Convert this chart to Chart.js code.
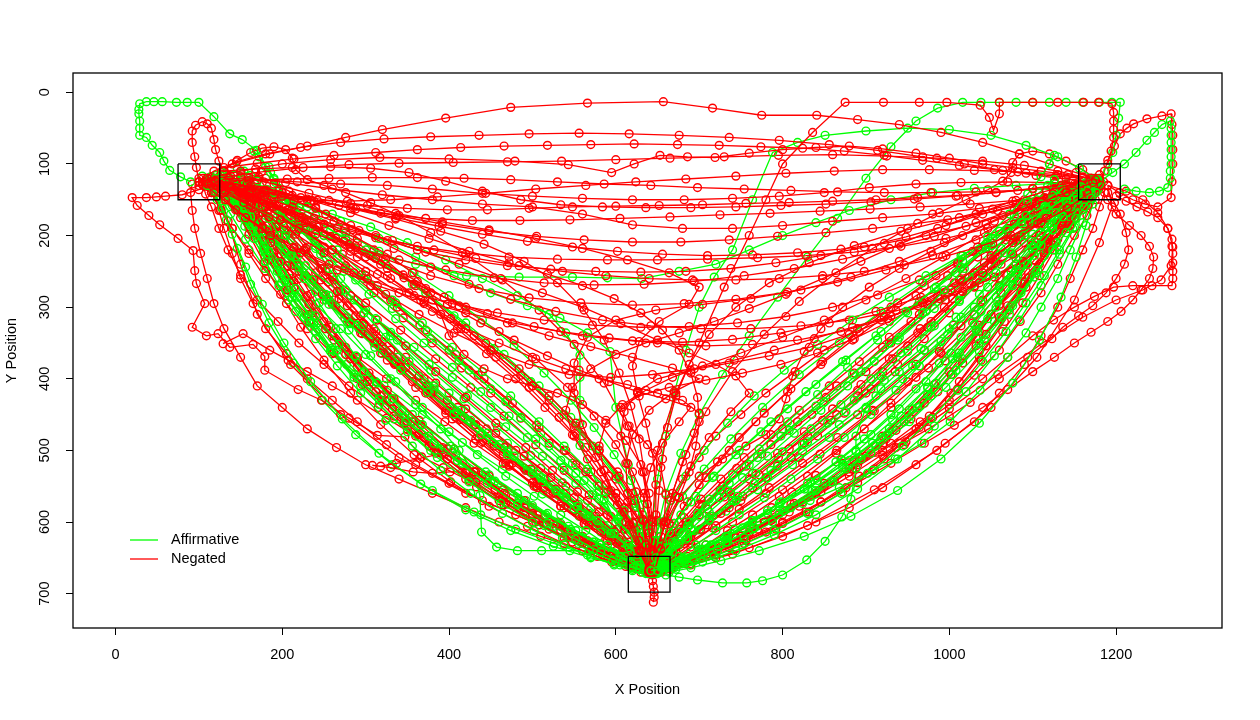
<!DOCTYPE html>
<html lang="en">
<head>
    <meta charset="UTF-8">
    <title>Mouse trajectories</title>
    <script src="https://cdn.jsdelivr.net/npm/chart.js"></script>
    <style>
        body { margin: 0; background: #fff; }
        canvas { display: block; }
    </style>
</head>
<body>
    <canvas id="traj-chart" width="1260" height="720"></canvas>

    <script>
        // axis ticks
        const xTicks = [0, 200, 400, 600, 800, 1000, 1200];
        const yTicks = [0, 100, 200, 300, 400, 500, 600, 700];
        const seriesNames = ['Affirmative', 'Negated'];

        // target boxes: [x1, y1, x2, y2]
        const targetBoxes = [
            [75, 100, 125, 150],
            [1155, 100, 1205, 150],
            [615, 648, 665, 698]
        ];

        // affirmative trials, [x, y] samples
        const affirmativeLeft = [
            [[640,672],[639,666],[637,658],[630,645],[615,628],[590,605],[555,575],[515,540],[470,500],[425,460],[380,418],[335,375],[292,330],[250,285],[212,240],[180,198],[155,165],[138,142],[127,130],[121,124],[118,121]],
            [[645,668],[642,660],[634,650],[618,636],[592,617],[556,592],[512,561],[464,526],[416,489],[368,450],[322,409],[280,366],[242,322],[208,276],[179,230],[155,187],[135,152],[120,130],[110,121],[104,117]],
            [[636,665],[630,655],[618,638],[598,612],[570,580],[536,545],[498,507],[458,468],[418,428],[378,388],[338,346],[300,304],[262,262],[228,222],[196,186],[168,158],[146,140],[130,130],[121,126]],
            [[632,670],[620,666],[598,658],[566,646],[526,630],[480,610],[430,586],[380,556],[332,520],[288,478],[248,430],[213,378],[184,322],[162,268],[146,218],[133,178],[122,150],[115,134],[111,126]],
            [[648,662],[647,650],[644,632],[636,606],[622,574],[600,536],[572,494],[538,450],[498,404],[454,358],[406,312],[356,268],[306,228],[258,192],[214,162],[178,140],[150,128],[132,122],[122,120]],
            [[642,670],[628,662],[604,648],[572,628],[534,602],[492,570],[448,534],[402,494],[356,450],[312,404],[272,356],[236,308],[204,262],[178,218],[158,180],[142,150],[130,132],[122,124]],
            [[640,660],[600,620],[540,560],[470,490],[400,420],[330,340],[270,260],[220,180],[190,120],[169,81],[152,66],[137,58],[118,34],[100,14],[86,14],[73,14],[56,13],[46,13],[37,13],[29,16],[28,24],[28,30],[29,40],[29,50],[29,60],[37,63],[44,74],[53,84],[58,96],[65,109],[78,118],[90,125]],
            [[120,125],[140,158],[160,190],[185,226],[210,260],[240,296],[270,330],[300,366],[330,400],[360,436],[390,470],[412,500],[430,530],[437,563],[438,590],[439,614],[457,635],[482,640],[511,640],[545,640],[572,640],[595,642],[610,645],[624,650],[635,655]],
            [[644,664],[640,652],[630,634],[612,610],[586,580],[552,546],[512,508],[468,467],[422,424],[376,380],[330,335],[286,290],[246,246],[210,206],[180,172],[156,146],[138,130],[126,122]],
            [[638,672],[618,664],[590,650],[555,630],[514,605],[470,575],[424,540],[378,500],[334,456],[294,410],[258,362],[226,314],[199,266],[177,222],[159,184],[145,156],[133,138],[124,128]],
            [[650,662],[646,640],[638,612],[624,578],[604,540],[578,498],[546,454],[508,410],[466,366],[420,322],[372,280],[324,240],[276,204],[230,172],[190,148],[156,132],[132,124]],
            [[640,665],[631,656],[616,641],[594,620],[566,594],[532,563],[494,528],[452,490],[408,450],[364,408],[320,365],[278,321],[240,278],[205,236],[176,198],[152,166],[134,144],[122,130],[116,124]],
            [[646,668],[632,660],[610,648],[580,630],[543,606],[500,577],[455,543],[408,506],[362,466],[318,424],[277,380],[240,335],[207,290],[179,246],[156,205],[138,170],[124,145],[114,130]],
            [[640,668],[636,660],[628,648],[614,632],[594,612],[568,588],[537,560],[500,528],[460,492],[418,453],[375,412],[332,369],[290,325],[252,282],[217,240],[186,201],[160,167],[140,142],[126,128],[118,122]],
            [[628,666],[605,660],[570,650],[525,634],[474,612],[420,583],[366,547],[316,504],[272,456],[234,404],[202,350],[176,296],[156,244],[140,198],[128,162],[118,138],[110,124]],
            [[640,665],[622,640],[600,600],[578,548],[557,493],[557,462],[557,430],[557,398],[557,367],[540,336],[520,310],[482,284],[440,260],[396,234],[350,210],[306,188],[260,170],[214,154],[170,140],[138,130],[115,125]],
            [[652,666],[648,656],[640,640],[626,618],[606,590],[580,556],[548,518],[510,476],[468,432],[424,388],[378,344],[332,302],[288,262],[246,226],[208,194],[176,168],[150,148],[132,134],[120,126]],
            [[642,672],[625,665],[600,652],[566,632],[526,606],[482,574],[436,538],[390,498],[346,454],[304,408],[266,360],[232,312],[203,264],[179,220],[160,182],[145,152],[133,132]],
            [[636,668],[626,658],[608,640],[582,614],[550,582],[512,544],[470,502],[426,458],[382,414],[338,370],[296,326],[256,284],[220,244],[188,208],[162,176],[142,150],[128,134],[118,126]],
            [[645,662],[638,646],[624,624],[602,596],[572,562],[536,524],[494,482],[450,440],[404,398],[358,356],[312,316],[268,278],[228,242],[194,208],[166,178],[146,154],[132,138]],
            [[638,664],[634,656],[626,646],[614,632],[598,616],[578,598],[554,578],[528,556],[500,532],[470,506],[438,478],[406,449],[374,419],[342,388],[311,356],[281,323],[253,290],[227,256],[203,223],[182,192],[164,164],[150,142],[138,128],[128,120],[120,116]],
            [[644,670],[634,664],[618,655],[598,643],[574,628],[546,610],[516,590],[484,568],[450,544],[416,518],[382,490],[348,460],[316,428],[286,394],[258,358],[234,322],[212,286],[194,250],[178,216],[164,186],[152,160],[140,140],[130,128],[122,122]],
            [[650,666],[650,652],[648,632],[642,606],[632,576],[618,542],[598,506],[574,468],[546,430],[514,392],[478,354],[440,318],[400,284],[358,252],[316,222],[276,196],[240,172],[208,152],[182,136],[160,124],[142,116],[128,112]],
            [[636,672],[620,668],[598,660],[570,648],[538,632],[502,612],[464,588],[426,560],[390,528],[356,494],[324,458],[294,420],[266,382],[240,344],[216,306],[196,270],[180,236],[166,204],[154,176],[144,152],[134,136],[126,126]],
            [[642,662],[640,650],[634,634],[622,614],[606,592],[586,568],[562,542],[534,514],[504,484],[472,452],[438,418],[404,384],[370,350],[336,316],[304,282],[274,250],[246,220],[220,192],[198,168],[178,148],[160,132],[144,122],[130,116]],
            [[646,666],[638,650],[624,628],[604,600],[580,568],[552,532],[520,494],[486,454],[450,414],[412,374],[374,334],[336,294],[300,256],[266,220],[236,186],[210,154],[192,126],[180,104],[172,90],[166,82]],
            [[640,668],[626,660],[606,648],[582,632],[552,612],[518,588],[482,560],[444,530],[406,498],[368,464],[332,428],[298,390],[268,352],[240,312],[216,274],[196,238],[178,204],[162,174],[148,150],[136,134],[124,124],[114,118]],
            [[642,668],[630,660],[612,648],[590,632],[564,612],[534,590],[502,564],[468,536],[434,506],[400,474],[368,440],[336,404],[306,368],[280,332],[256,296],[236,262],[218,230],[204,200],[194,174],[186,152],[178,136],[170,124],[162,116],[154,110],[146,106]],
            [[646,664],[634,652],[616,636],[594,616],[568,592],[540,566],[510,538],[478,508],[446,476],[414,444],[382,410],[352,376],[324,342],[298,308],[276,276],[256,246],[240,218],[226,192],[214,170],[204,150],[196,134],[190,122],[186,112],[184,104]],
            [[638,670],[620,664],[596,654],[568,640],[536,622],[500,600],[462,574],[424,544],[386,510],[350,474],[316,436],[286,398],[260,360],[238,322],[218,286],[200,252],[184,222],[170,196],[158,174],[148,158],[140,146],[134,138],[130,132]],
            [[650,662],[646,648],[638,630],[626,608],[610,584],[590,556],[566,526],[538,494],[508,460],[474,424],[440,390],[404,356],[368,322],[332,290],[298,260],[266,232],[238,206],[214,184],[194,164],[178,148],[166,136],[158,128],[152,122]],
            [[644,672],[628,666],[608,656],[582,642],[552,624],[518,602],[482,576],[446,546],[410,514],[376,480],[344,444],[314,406],[288,368],[264,330],[244,294],[226,260],[210,228],[196,200],[184,176],[174,158],[166,144],[160,134],[156,126]]
        ];
        const affirmativeRight = [
            [[648,668],[652,660],[660,648],[676,632],[700,611],[732,585],[770,555],[812,520],[856,482],[900,442],[944,400],[988,356],[1030,310],[1068,264],[1100,220],[1126,182],[1146,152],[1160,134],[1170,124],[1176,120]],
            [[644,670],[654,664],[672,654],[700,638],[738,616],[782,588],[830,554],[880,514],[928,470],[974,422],[1016,372],[1054,320],[1088,268],[1116,220],[1140,180],[1158,150],[1170,132],[1178,124]],
            [[642,662],[644,648],[650,626],[662,598],[680,564],[706,526],[738,484],[776,440],[820,394],[868,350],[918,306],[968,266],[1016,228],[1060,194],[1098,166],[1130,146],[1154,132],[1170,124]],
            [[650,672],[664,670],[690,664],[726,654],[772,640],[826,620],[882,592],[938,556],[990,512],[1036,462],[1076,406],[1108,346],[1134,286],[1152,230],[1164,186],[1172,156],[1178,136],[1182,126]],
            [[645,670],[660,674],[676,677],[698,681],[728,685],[757,685],[776,682],[800,674],[829,653],[851,627],[871,593],[882,568],[888,525],[888,500],[888,480],[900,440],[918,414],[940,390],[970,360],[1000,330],[1030,300],[1060,270],[1086,240],[1110,210],[1132,184],[1150,160],[1165,142],[1175,130]],
            [[650,665],[674,654],[700,640],[730,622],[760,605],[796,588],[833,570],[868,552],[902,532],[935,512],[967,490],[1001,460],[1037,416],[1070,370],[1092,336],[1110,300],[1130,260],[1145,220],[1160,182],[1170,150]],
            [[646,664],[650,652],[660,636],[676,614],[698,588],[726,556],[760,520],[798,480],[840,438],[884,394],[928,350],[972,306],[1014,262],[1052,220],[1086,184],[1114,156],[1138,138],[1158,126],[1172,120]],
            [[652,670],[668,664],[692,652],[724,634],[764,610],[810,580],[858,544],[906,504],[952,460],[996,412],[1036,362],[1072,310],[1102,258],[1128,210],[1148,170],[1162,142],[1172,128]],
            [[1180,125],[1196,112],[1210,100],[1224,84],[1237,67],[1246,56],[1255,45],[1265,40],[1266,50],[1266,60],[1266,70],[1266,80],[1266,90],[1266,100],[1265,110],[1265,120],[1262,133],[1252,138],[1240,140],[1224,138],[1210,135]],
            [[640,665],[650,610],[660,560],[678,504],[700,450],[728,394],[760,340],[794,286],[830,230],[866,176],[900,120],[930,76],[960,40],[986,22],[1016,14],[1038,14],[1060,14],[1080,14],[1100,14],[1120,14],[1140,14],[1160,14],[1180,14],[1195,14],[1205,14],[1203,36],[1200,60],[1196,84],[1190,110]],
            [[110,130],[150,154],[200,180],[250,200],[300,220],[360,240],[421,256],[484,258],[548,258],[590,259],[631,260],[676,250],[720,240],[760,220],[800,200],[840,182],[880,165],[930,150],[980,140],[1030,134],[1080,130],[1126,127],[1170,125]],
            [[640,665],[644,600],[650,540],[660,480],[670,420],[684,360],[700,300],[718,258],[740,220],[764,150],[788,84],[818,70],[851,60],[900,54],[950,50],[1000,52],[1050,60],[1092,74],[1130,90],[1156,106],[1175,120]],
            [[650,666],[656,656],[668,642],[686,622],[712,598],[744,570],[782,538],[824,502],[868,464],[912,424],[956,382],[998,338],[1038,294],[1074,250],[1104,210],[1130,176],[1150,150],[1166,134],[1176,126]],
            [[648,668],[662,662],[684,650],[714,632],[752,608],[796,578],[842,542],[888,502],[932,458],[974,412],[1012,364],[1046,316],[1076,270],[1102,228],[1124,192],[1142,162],[1156,140],[1168,128]],
            [[645,662],[648,648],[656,628],[670,602],[690,572],[716,538],[748,500],[786,460],[828,418],[872,376],[918,334],[964,292],[1008,252],[1050,214],[1088,180],[1120,154],[1146,136],[1164,126],[1176,121]],
            [[650,670],[672,666],[704,656],[744,640],[790,618],[840,590],[890,554],[938,512],[982,466],[1020,418],[1054,368],[1084,318],[1110,270],[1132,226],[1150,188],[1164,158],[1174,138],[1180,128]],
            [[655,664],[660,650],[670,630],[686,606],[708,578],[736,546],[770,510],[808,472],[850,432],[894,390],[938,346],[982,302],[1024,258],[1062,218],[1096,184],[1124,158],[1146,140],[1162,130]],
            [[646,670],[660,662],[680,650],[708,632],[742,610],[782,584],[826,554],[872,520],[918,482],[962,440],[1004,394],[1042,346],[1076,298],[1104,252],[1128,210],[1146,176],[1160,150],[1170,134],[1176,126]],
            [[640,665],[630,600],[615,520],[600,440],[593,362],[566,336],[533,315],[494,298],[450,280],[406,256],[360,230],[316,204],[270,180],[230,160],[190,140],[150,128],[120,120]],
            [[652,662],[664,646],[684,624],[712,596],[746,564],[786,528],[830,488],[876,446],[922,402],[966,358],[1008,314],[1046,272],[1080,232],[1110,196],[1134,166],[1154,144],[1168,130],[1178,122]],
            [[646,664],[652,656],[662,644],[676,630],[694,612],[716,592],[740,570],[766,546],[794,520],[824,492],[854,462],[886,430],[918,396],[950,362],[982,326],[1012,290],[1040,256],[1066,224],[1090,196],[1112,172],[1132,152],[1150,138],[1164,128],[1174,122]],
            [[650,670],[664,664],[682,656],[706,644],[734,628],[766,608],[800,584],[836,556],[872,524],[908,490],[942,452],[974,412],[1004,372],[1032,332],[1058,292],[1082,256],[1104,222],[1124,192],[1140,168],[1154,148],[1166,134],[1176,126]],
            [[642,664],[642,648],[646,626],[654,600],[666,570],[684,536],[706,500],[734,462],[766,424],[802,388],[842,352],[884,318],[928,286],[972,256],[1014,228],[1052,204],[1086,182],[1116,164],[1140,148],[1160,136],[1174,128]],
            [[648,672],[664,668],[688,660],[718,648],[752,632],[790,612],[830,588],[870,560],[908,528],[944,494],[978,456],[1010,416],[1040,376],[1068,334],[1092,294],[1114,256],[1132,220],[1148,190],[1160,164],[1170,144],[1178,130]],
            [[652,664],[660,650],[672,632],[690,610],[712,586],[738,560],[768,532],[800,502],[834,470],[870,436],[906,400],[942,364],[978,328],[1012,292],[1044,258],[1074,226],[1100,198],[1122,174],[1142,154],[1158,140],[1170,130]],
            [[644,666],[654,650],[668,628],[688,600],[712,568],[740,534],[772,498],[806,460],[842,422],[878,384],[914,346],[950,308],[984,272],[1016,236],[1046,202],[1072,170],[1094,142],[1110,118],[1120,100],[1126,88]],
            [[650,668],[662,662],[680,652],[704,638],[732,620],[764,598],[798,572],[834,544],[870,512],[906,478],[940,442],[972,404],[1002,364],[1030,324],[1056,286],[1080,250],[1102,216],[1122,186],[1140,162],[1156,144],[1168,132],[1178,124]],
            [[648,668],[660,660],[676,648],[696,632],[720,612],[748,590],[778,566],[810,540],[842,512],[874,482],[906,450],[936,416],[964,382],[990,348],[1014,314],[1036,282],[1056,252],[1074,224],[1090,200],[1104,178],[1116,160],[1126,146],[1134,136],[1140,128]],
            [[644,664],[652,652],[664,636],[680,616],[700,592],[724,566],[752,538],[782,508],[814,476],[846,444],[878,410],[910,376],[940,342],[968,308],[994,276],[1018,246],[1040,218],[1060,194],[1078,172],[1094,154],[1108,140],[1118,130],[1126,122]],
            [[652,670],[670,664],[694,654],[722,640],[754,622],[788,600],[824,574],[860,544],[894,512],[926,478],[956,442],[984,406],[1010,370],[1034,334],[1056,300],[1076,268],[1094,240],[1110,214],[1124,192],[1136,174],[1146,160],[1154,150],[1160,142]],
            [[646,662],[648,650],[654,634],[664,614],[678,590],[696,564],[718,536],[744,506],[774,474],[806,442],[840,408],[876,374],[912,340],[948,306],[982,274],[1014,244],[1044,216],[1070,192],[1092,172],[1110,156],[1124,144],[1134,136]],
            [[650,668],[664,662],[682,652],[706,638],[734,620],[764,598],[796,574],[830,546],[864,516],[898,484],[930,450],[960,414],[988,378],[1014,342],[1038,306],[1060,272],[1080,240],[1098,212],[1114,188],[1128,168],[1140,152],[1150,140],[1158,132]],
            [[642,668],[656,664],[676,656],[702,644],[732,628],[766,608],[802,584],[840,556],[876,526],[912,494],[946,460],[978,424],[1008,388],[1036,350],[1062,314],[1086,280],[1106,248],[1124,220],[1140,196],[1152,176],[1162,160],[1170,148],[1176,140]]
        ];

        // negated trials, [x, y] samples
        const negatedLeft = [
            [[641,672],[640,662],[638,640],[630,600],[616,580],[600,560],[570,530],[540,500],[505,465],[470,430],[435,395],[400,360],[365,325],[330,290],[295,255],[260,220],[225,190],[190,160],[162,140],[140,125],[118,121],[110,120]],
            [[645,668],[633,655],[620,640],[595,620],[570,600],[535,572],[500,545],[465,518],[430,490],[395,460],[360,430],[325,400],[290,370],[260,340],[230,310],[205,280],[180,250],[160,220],[140,190],[126,164],[115,140],[104,128],[100,125]],
            [[640,670],[622,662],[600,650],[560,630],[520,610],[480,590],[440,570],[400,546],[360,520],[325,492],[290,460],[260,430],[230,400],[205,365],[180,330],[165,295],[150,260],[140,225],[130,190],[124,165],[120,140],[112,128],[105,120]],
            [[642,665],[641,645],[640,620],[632,590],[620,560],[602,530],[580,500],[552,466],[520,430],[486,395],[450,360],[415,325],[380,290],[345,255],[310,220],[275,190],[240,160],[208,138],[180,120],[150,112],[130,110]],
            [[650,660],[630,630],[610,610],[590,590],[566,570],[540,550],[510,525],[480,500],[445,470],[410,440],[375,410],[340,380],[310,350],[280,320],[250,290],[220,260],[195,230],[170,200],[150,175],[130,150],[118,138],[110,130]],
            [[630,670],[595,656],[560,640],[510,620],[460,600],[420,580],[380,560],[340,540],[300,520],[265,496],[230,470],[200,440],[170,410],[150,370],[130,330],[118,295],[110,260],[102,225],[95,190],[92,165],[90,140],[92,128]],
            [[645,668],[622,654],[600,640],[560,620],[520,600],[490,585],[460,570],[433,551],[416,530],[401,530],[380,532],[357,530],[330,524],[308,521],[318,522],[337,518],[365,511],[393,504],[370,482],[350,460],[320,430],[290,400],[260,365],[230,330],[205,295],[180,260],[160,225],[140,190],[126,165],[115,140]],
            [[120,128],[100,136],[80,143],[60,145],[49,146],[37,147],[20,147],[26,158],[40,172],[53,185],[75,204],[93,221],[95,249],[97,267],[107,295],[92,328],[109,340],[123,337],[137,356],[165,352],[179,369],[179,388],[219,415],[247,430],[280,455],[314,479],[347,481],[367,509],[393,524],[420,540],[460,565],[500,590],[540,615],[580,640],[610,656],[640,670]],
            [[100,125],[97,105],[95,90],[92,70],[92,54],[96,46],[104,41],[110,44],[115,50],[118,66],[120,80],[124,96],[130,110],[155,130],[180,150],[215,175],[250,200],[290,230],[330,260],[370,295],[410,330],[445,365],[480,400],[515,440],[550,480],[582,530],[610,580],[628,620],[640,660]],
            [[645,712],[646,705],[646,698],[645,690],[644,682],[644,674],[645,665],[643,652],[640,640],[632,620],[620,600],[602,576],[580,550],[552,520],[520,490],[486,455],[450,420],[415,385],[380,350],[345,315],[310,280],[275,245],[240,210],[210,184],[180,160],[152,140],[130,125]],
            [[640,672],[610,655],[585,640],[560,625],[525,602],[490,580],[455,555],[420,530],[385,500],[350,470],[315,440],[280,410],[250,380],[220,350],[195,320],[170,290],[150,255],[135,220],[124,190],[115,160],[108,142],[105,130]],
            [[648,664],[640,630],[625,590],[600,540],[560,480],[500,410],[430,340],[360,270],[290,210],[220,160],[160,130],[120,122]],
            [[638,668],[580,640],[500,600],[420,560],[340,510],[270,450],[210,380],[170,310],[150,240],[135,180],[125,140]],
            [[129,351],[153,337],[185,360],[207,374],[230,390],[260,410],[290,430],[325,455],[360,480],[395,505],[430,530],[465,555],[500,580],[535,605],[570,630],[600,650],[630,665]],
            [[640,668],[625,650],[590,615],[545,575],[490,525],[430,465],[370,400],[310,330],[255,265],[205,200],[160,150],[125,125]],
            [[644,666],[615,640],[575,605],[525,560],[465,505],[400,445],[335,380],[275,315],[220,250],[172,185],[138,140],[115,118]],
            [[646,670],[628,652],[605,628],[560,590],[505,540],[445,485],[380,420],[320,355],[262,290],[210,225],[165,170],[130,132]],
            [[641,668],[636,660],[626,648],[610,632],[588,612],[560,588],[528,560],[492,528],[454,494],[414,457],[374,418],[334,378],[296,337],[260,296],[226,256],[196,218],[170,184],[150,156],[134,136],[122,126]],
            [[644,672],[630,666],[610,656],[582,640],[548,620],[508,596],[464,566],[420,532],[376,494],[334,452],[296,408],[262,364],[232,320],[206,276],[184,234],[166,196],[150,164],[136,140],[124,126]],
            [[650,664],[646,650],[640,630],[630,604],[614,572],[592,536],[564,496],[532,454],[496,412],[456,370],[414,330],[370,292],[326,256],[282,222],[240,192],[202,166],[170,146],[144,132],[126,124]],
            [[636,668],[620,660],[596,646],[566,626],[530,600],[490,570],[448,536],[406,498],[364,458],[326,416],[290,372],[258,328],[230,284],[206,242],[186,204],[168,172],[152,148],[138,132],[128,124]],
            [[642,666],[628,654],[608,636],[582,612],[550,584],[514,552],[476,518],[436,482],[396,444],[356,404],[318,364],[282,322],[248,282],[218,242],[192,206],[170,176],[152,152],[138,136],[128,128]],
            [[646,668],[640,656],[630,640],[614,618],[594,592],[568,562],[538,528],[504,492],[466,452],[426,412],[384,372],[342,332],[300,294],[260,258],[222,224],[188,194],[160,168],[140,148],[126,134],[118,126]],
            [[638,670],[612,662],[578,648],[538,630],[494,606],[448,578],[402,544],[358,506],[318,464],[282,420],[250,374],[222,328],[198,282],[178,238],[160,198],[146,164],[134,140],[124,126]],
            [[645,664],[646,648],[646,626],[642,598],[634,566],[620,530],[600,492],[574,452],[542,412],[504,372],[460,334],[412,298],[362,264],[312,232],[264,204],[220,178],[182,158],[152,142],[130,130]],
            [[110,125],[128,110],[146,95],[162,84],[176,78],[190,76],[204,80],[212,92],[216,108],[230,122],[250,130],[276,140],[306,154],[340,172],[378,196],[420,226],[464,262],[508,304],[550,352],[586,406],[614,466],[632,530],[642,596],[645,650]],
            [[644,666],[636,656],[622,642],[604,624],[582,604],[556,580],[528,554],[498,526],[466,496],[432,464],[398,430],[364,396],[330,360],[298,324],[268,288],[240,252],[214,218],[192,188],[174,162],[158,142],[146,128],[136,120]],
            [[640,670],[624,662],[602,650],[574,634],[542,614],[506,590],[468,562],[430,530],[392,496],[356,460],[322,422],[290,384],[262,346],[236,308],[214,272],[194,238],[178,208],[164,180],[152,158],[142,140],[132,128]],
            [[648,664],[648,648],[644,626],[636,600],[622,570],[604,536],[580,500],[552,462],[520,424],[484,386],[444,350],[402,316],[358,284],[314,254],[272,226],[234,200],[200,176],[172,154],[150,136],[134,124]],
            [[642,668],[630,658],[612,644],[590,626],[564,604],[534,578],[502,550],[468,518],[432,484],[396,448],[360,412],[326,374],[294,336],[264,298],[238,262],[214,228],[194,196],[176,168],[160,146],[146,130],[134,120],[126,116]],
            [[636,668],[614,660],[584,646],[548,628],[508,604],[466,576],[424,542],[384,504],[346,462],[312,418],[282,372],[256,326],[234,282],[214,242],[196,206],[180,176],[164,152],[150,136],[138,126]],
            [[646,672],[640,662],[630,650],[616,634],[598,614],[576,592],[550,566],[522,538],[490,508],[456,476],[420,442],[384,406],[348,370],[312,334],[278,298],[246,262],[216,228],[190,196],[168,170],[150,150],[136,136],[126,128]],
            [[640,664],[632,650],[620,632],[602,610],[580,586],[554,558],[524,528],[492,496],[456,462],[420,426],[384,390],[348,354],[314,318],[282,284],[252,250],[226,220],[202,192],[182,168],[164,148],[150,134],[138,124]],
            [[640,666],[628,656],[610,642],[588,624],[562,602],[534,578],[504,550],[472,520],[440,488],[408,454],[378,420],[348,384],[320,348],[294,312],[270,278],[248,246],[230,216],[214,190],[200,168],[190,150],[182,136],[176,126],[172,118],[168,112]],
            [[646,668],[634,658],[616,644],[594,626],[568,604],[538,580],[506,552],[472,522],[438,490],[404,456],[372,420],[342,384],[314,348],[288,312],[266,278],[246,246],[228,218],[212,194],[198,174],[186,158],[176,146],[168,138],[160,132]],
            [[642,670],[622,664],[598,654],[570,640],[538,622],[504,600],[468,574],[432,544],[398,512],[364,478],[332,442],[302,404],[276,366],[252,330],[232,296],[214,264],[198,236],[186,210],[176,188],[168,170],[160,156],[154,146]],
            [[648,664],[644,650],[636,632],[624,610],[608,586],[588,560],[564,530],[538,500],[508,468],[476,434],[442,400],[408,366],[372,332],[338,300],[306,270],[276,242],[250,216],[228,192],[210,172],[196,156],[186,144],[180,136]],
            [[636,668],[618,660],[594,648],[566,632],[534,612],[500,588],[466,560],[432,530],[398,498],[366,464],[334,428],[304,392],[276,356],[250,320],[228,286],[208,254],[190,224],[176,198],[164,176],[154,158],[146,144],[140,134],[136,126]]
        ];
        const negatedRight = [
            [[645,665],[660,630],[678,610],[700,590],[730,565],[760,540],[795,510],[830,480],[865,450],[900,420],[935,390],[970,360],[1005,325],[1040,290],[1070,255],[1100,220],[1125,190],[1150,160],[1168,140],[1175,130]],
            [[650,668],[675,654],[700,640],[735,620],[770,600],[810,575],[850,550],[890,520],[930,490],[965,460],[1000,430],[1030,395],[1060,360],[1085,320],[1110,280],[1130,240],[1150,200],[1165,172],[1175,150],[1182,135],[1185,125]],
            [[648,660],[652,630],[655,600],[665,570],[680,540],[700,510],[720,480],[750,450],[780,420],[815,390],[850,360],[890,330],[930,300],[970,270],[1010,240],[1045,210],[1080,180],[1110,158],[1140,140],[1170,120]],
            [[655,670],[690,660],[720,650],[760,636],[800,620],[840,600],[880,580],[920,552],[960,520],[995,490],[1030,460],[1060,420],[1090,380],[1110,340],[1130,300],[1145,260],[1160,220],[1172,190],[1180,160],[1186,140]],
            [[650,665],[690,620],[750,570],[820,510],[890,450],[960,380],[1030,310],[1090,240],[1140,180],[1165,140],[1180,115]],
            [[645,668],[676,656],[707,642],[735,622],[763,602],[787,580],[811,558],[840,535],[871,513],[895,510],[920,507],[948,488],[975,470],[1000,452],[1025,433],[1060,400],[1094,370],[1123,344],[1136,328],[1155,312],[1172,298],[1188,280],[1200,260],[1210,240],[1215,220],[1212,196],[1205,170],[1198,154],[1190,140]],
            [[650,670],[685,656],[720,640],[760,616],[800,590],[840,560],[880,530],[920,500],[960,470],[1000,436],[1040,400],[1070,370],[1100,340],[1125,318],[1150,300],[1174,285],[1197,272],[1220,270],[1243,270],[1267,270],[1268,260],[1268,250],[1268,238],[1268,225],[1267,215],[1267,205],[1262,190],[1250,175],[1238,167],[1225,160],[1212,152],[1200,145]],
            [[1180,125],[1186,110],[1190,95],[1198,75],[1205,58],[1213,50],[1221,44],[1237,37],[1255,33],[1266,30],[1267,45],[1268,60],[1268,80],[1268,100],[1267,125],[1266,147],[1250,160],[1235,156],[1220,150],[1204,140],[1190,130]],
            [[640,665],[672,640],[720,605],[780,560],[845,505],[910,445],[975,385],[1035,325],[1090,265],[1130,205],[1160,160],[1178,132]],
            [[650,662],[668,620],[700,575],[745,525],[800,470],[865,410],[930,350],[995,290],[1055,230],[1105,180],[1150,140],[1172,125]],
            [[655,668],[740,645],[830,605],[910,555],[985,500],[1050,440],[1105,370],[1150,290],[1180,210],[1195,160],[1190,130]],
            [[1180,130],[1190,150],[1200,170],[1216,186],[1230,200],[1240,215],[1245,230],[1244,246],[1240,260],[1230,276],[1220,290],[1206,306],[1190,320],[1170,335],[1150,350],[1126,370],[1100,390],[1070,415],[1040,440],[1006,465],[970,490],[930,518],[890,545],[846,572],[800,600],[756,624],[710,645],[680,658],[650,668]],
            [[652,664],[690,635],[740,600],[800,555],[865,500],[930,440],[995,375],[1050,310],[1100,245],[1140,185],[1168,140],[1180,122]],
            [[647,666],[662,640],[685,600],[725,555],[775,505],[835,450],[900,390],[965,330],[1030,270],[1090,210],[1135,160],[1165,130]],
            [[648,668],[656,660],[670,648],[690,630],[716,608],[748,582],[784,552],[824,518],[866,482],[908,444],[950,404],[990,364],[1028,322],[1062,280],[1092,240],[1118,204],[1138,174],[1154,150],[1166,134],[1174,126]],
            [[644,670],[660,666],[684,658],[716,644],[756,626],[800,602],[846,572],[892,536],[936,496],[976,452],[1012,404],[1044,354],[1072,304],[1096,258],[1116,216],[1134,182],[1150,154],[1164,136],[1174,126]],
            [[652,662],[654,648],[660,628],[670,602],[686,572],[708,538],[736,500],[768,460],[806,418],[848,376],[892,334],[938,294],[984,256],[1028,222],[1068,192],[1102,168],[1130,148],[1152,134],[1168,126]],
            [[646,668],[668,662],[698,652],[736,636],[780,614],[828,586],[876,552],[922,512],[964,468],[1002,420],[1036,370],[1066,320],[1092,272],[1114,228],[1134,190],[1150,160],[1164,140],[1174,128]],
            [[650,666],[658,654],[670,638],[688,618],[712,594],[740,566],[772,534],[808,498],[848,458],[890,416],[932,372],[974,328],[1014,284],[1050,242],[1082,206],[1108,176],[1130,154],[1150,138],[1166,128],[1176,122]],
            [[640,668],[654,664],[676,656],[706,642],[744,622],[788,596],[834,564],[880,526],[924,484],[964,438],[1000,390],[1032,342],[1060,296],[1086,254],[1108,216],[1128,184],[1146,158],[1162,140]],
            [[1180,125],[1160,108],[1140,96],[1120,86],[1100,82],[1084,86],[1076,98],[1074,112],[1064,124],[1046,136],[1020,150],[988,168],[950,190],[908,218],[864,252],[820,292],[778,338],[740,390],[708,446],[684,506],[666,566],[654,620],[648,656]],
            [[1190,130],[1212,138],[1232,150],[1250,168],[1262,190],[1268,216],[1266,242],[1254,262],[1232,276],[1200,290],[1160,314],[1112,350],[1058,394],[1000,442],[940,490],[880,536],[820,578],[760,614],[704,642],[660,664]],
            [[646,666],[654,658],[666,646],[682,630],[702,610],[726,588],[752,564],[780,538],[810,510],[842,480],[874,448],[906,414],[938,380],[970,344],[1000,308],[1030,272],[1056,238],[1080,208],[1102,182],[1122,160],[1140,144],[1156,132],[1168,126]],
            [[642,670],[656,666],[676,658],[702,646],[734,630],[770,610],[808,586],[846,558],[884,526],[920,492],[954,456],[986,418],[1016,378],[1044,338],[1070,298],[1094,260],[1114,224],[1132,194],[1148,168],[1160,148],[1170,134]],
            [[650,664],[652,650],[658,630],[668,606],[682,578],[700,548],[722,516],[748,482],[778,448],[810,414],[846,380],[884,346],[922,314],[960,284],[998,256],[1034,230],[1068,206],[1098,184],[1124,164],[1146,148],[1164,134],[1176,126]],
            [[648,670],[666,666],[690,658],[720,646],[754,630],[792,610],[832,586],[872,558],[910,526],[946,492],[980,454],[1010,414],[1038,374],[1064,334],[1088,294],[1108,256],[1126,220],[1142,190],[1156,164],[1166,144],[1174,130]],
            [[644,664],[648,654],[656,640],[668,622],[684,600],[704,576],[728,550],[756,522],[786,492],[818,460],[852,426],[886,392],[920,356],[954,320],[986,284],[1016,250],[1044,218],[1070,190],[1094,166],[1116,148],[1136,134],[1154,126],[1168,120]],
            [[652,668],[668,662],[690,652],[718,638],[750,620],[786,598],[824,572],[862,542],[900,508],[936,472],[970,434],[1002,394],[1032,354],[1060,314],[1086,276],[1108,240],[1128,208],[1146,180],[1160,158],[1172,140],[1180,128]],
            [[640,666],[646,656],[656,642],[670,624],[688,604],[710,582],[736,558],[764,532],[794,504],[826,474],[860,442],[894,408],[928,372],[962,336],[994,300],[1024,266],[1052,234],[1078,206],[1100,182],[1120,162],[1138,146],[1154,134],[1166,126]],
            [[646,666],[656,658],[670,644],[688,626],[710,604],[736,580],[764,552],[794,522],[826,490],[858,458],[890,424],[920,390],[950,354],[978,320],[1004,288],[1028,256],[1050,228],[1070,202],[1088,180],[1104,162],[1116,148],[1126,138],[1134,130]],
            [[650,670],[666,664],[688,654],[714,640],[744,622],[778,600],[814,574],[850,546],[886,514],[920,480],[952,444],[982,408],[1010,370],[1036,334],[1060,298],[1082,264],[1102,234],[1120,206],[1134,182],[1146,162],[1156,148],[1164,138]],
            [[642,664],[646,652],[654,636],[666,616],[682,594],[702,568],[726,540],[754,510],[786,478],[820,444],[856,410],[892,376],[928,342],[964,310],[998,280],[1030,252],[1058,226],[1084,202],[1106,182],[1124,166],[1138,152],[1148,142]],
            [[654,668],[668,660],[686,648],[708,632],[734,612],[764,590],[796,564],[830,536],[864,504],[898,470],[930,434],[960,398],[988,362],[1014,326],[1038,292],[1060,260],[1080,232],[1098,206],[1114,184],[1128,166],[1140,152],[1150,142],[1156,134]]
        ];
        const negatedCross = [
            [[1180,125],[1160,118],[1130,110],[1090,102],[1040,96],[985,92],[925,89],[860,87],[795,88],[730,90],[665,92],[600,94],[535,96],[470,97],[405,98],[340,99],[280,101],[225,105],[175,111],[138,117],[115,121]],
            [[1170,140],[1130,146],[1080,151],[1025,156],[965,160],[905,163],[845,166],[785,169],[725,171],[665,174],[605,176],[545,178],[485,179],[428,179],[372,176],[318,169],[268,158],[222,147],[180,137],[145,130],[122,126]],
            [[120,130],[150,136],[190,143],[235,151],[285,161],[338,172],[392,184],[448,194],[505,201],[562,206],[620,209],[678,209],[736,206],[794,201],[852,196],[908,190],[962,183],[1012,175],[1058,165],[1100,154],[1138,143],[1166,134]],
            [[640,670],[641,648],[640,615],[638,575],[634,530],[628,484],[618,438],[604,392],[586,346],[562,304],[530,266],[490,236],[442,212],[390,194],[336,177],[282,162],[230,149],[182,138],[145,130],[122,126]],
            [[645,665],[647,635],[649,598],[652,556],[656,512],[662,468],[672,424],[688,380],[712,338],[744,300],[784,266],[832,238],[886,214],[942,194],[998,178],[1052,163],[1100,149],[1140,137],[1168,128]],
            [[110,120],[132,138],[162,158],[198,178],[240,198],[288,217],[340,234],[396,248],[454,259],[514,266],[574,269],[634,268],[694,264],[754,256],[814,246],[872,233],[928,218],[982,201],[1032,182],[1078,164],[1118,148],[1152,136],[1174,128]],
            [[1175,125],[1150,142],[1118,162],[1078,184],[1032,206],[980,228],[924,248],[866,265],[806,279],[744,289],[682,295],[620,297],[558,294],[496,287],[436,274],[378,256],[324,233],[274,208],[228,182],[188,160],[154,143],[128,132],[112,126]],
            [[100,125],[118,110],[145,97],[180,86],[222,77],[270,70],[322,65],[378,62],[436,60],[496,58],[556,57],[616,58],[676,60],[736,63],[796,67],[856,73],[914,81],[968,90],[1018,100],[1064,109],[1104,116],[1140,121],[1168,124]],
            [[640,670],[628,640],[612,600],[594,556],[576,510],[560,464],[550,420],[550,378],[566,342],[600,318],[648,304],[704,296],[762,288],[822,276],[882,258],[940,236],[994,210],[1044,184],[1088,160],[1124,142],[1152,130]],
            [[1180,130],[1162,158],[1136,186],[1102,214],[1062,240],[1016,264],[966,286],[912,306],[856,322],[798,336],[740,345],[680,349],[620,347],[560,340],[502,327],[446,309],[394,286],[346,259],[300,230],[258,201],[220,175],[184,155],[152,141],[128,132]],
            [[120,125],[160,123],[206,121],[256,120],[308,119],[362,119],[418,120],[474,122],[530,125],[586,128],[642,130],[698,133],[754,135],[810,137],[866,139],[922,140],[978,140],[1032,139],[1082,137],[1126,134],[1160,130]],
            [[1170,120],[1130,115],[1082,111],[1030,109],[976,108],[920,108],[862,110],[804,113],[744,117],[684,121],[624,125],[564,130],[504,135],[444,141],[386,146],[330,150],[278,152],[230,151],[188,146],[152,139],[126,132],[110,128]],
            [[640,665],[644,630],[648,590],[648,548],[644,504],[636,462],[626,420],[620,382],[628,348],[652,320],[688,296],[700,272],[664,252],[614,234],[560,218],[504,204],[448,192],[392,181],[336,169],[282,155],[232,141],[190,128],[160,120]],
            [[100,120],[118,140],[144,164],[176,190],[214,216],[256,240],[302,261],[352,280],[404,295],[458,308],[514,318],[572,325],[630,328],[688,327],[746,322],[804,313],[860,300],[914,283],[964,262],[1010,238],[1052,211],[1090,184],[1122,160],[1148,142],[1166,130]],
            [[1180,120],[1158,138],[1128,156],[1090,174],[1046,190],[996,204],[942,215],[886,223],[828,228],[770,231],[710,233],[650,234],[590,234],[530,233],[472,230],[416,224],[362,215],[312,203],[266,189],[224,174],[186,159],[154,146],[128,136]],
            [[130,110],[168,107],[212,105],[258,104],[306,106],[352,112],[396,124],[440,138],[486,150],[534,157],[584,160],[636,161],[690,161],[744,160],[798,158],[852,156],[906,153],[958,149],[1008,145],[1056,140],[1100,135],[1140,130],[1168,126]],
            [[140,100],[185,86],[230,75],[276,63],[320,52],[396,36],[474,21],[566,15],[657,13],[716,22],[775,32],[841,32],[890,38],[940,45],[990,56],[1040,70],[1084,86],[1120,100],[1152,112],[1175,120]],
            [[640,670],[644,600],[650,500],[672,420],[700,350],[730,272],[760,200],[780,150],[800,100],[836,56],[875,14],[921,14],[964,14],[997,14],[1037,18],[1048,35],[1053,53],[1060,30],[1060,14],[1100,14],[1130,14],[1161,14],[1179,14],[1195,16],[1197,28],[1197,40],[1197,52],[1197,63],[1194,82],[1190,100]],
            [[110,120],[150,110],[200,100],[258,94],[317,91],[400,93],[479,96],[543,101],[595,112],[622,100],[653,88],[686,90],[719,91],[760,85],[800,80],[840,77],[880,75],[920,79],[960,85],[1000,92],[1040,100],[1076,105],[1110,110],[1142,115],[1170,120]],
            [[1175,140],[1150,176],[1118,210],[1080,240],[1036,266],[988,288],[936,305],[880,318],[822,326],[762,330],[702,330],[642,326],[584,318],[528,306],[474,289],[424,268],[378,244],[334,218],[292,193],[252,170],[214,151],[178,137],[145,128],[120,124]],
            [[100,130],[128,132],[162,136],[200,145],[240,162],[282,186],[326,207],[372,223],[420,234],[470,242],[522,247],[576,250],[630,251],[684,250],[738,246],[792,238],[846,228],[898,216],[948,202],[996,186],[1040,170],[1080,157],[1114,147],[1142,140]],
            [[640,670],[630,640],[621,602],[614,560],[612,518],[620,478],[640,444],[670,418],[700,400],[668,385],[620,370],[570,355],[520,340],[470,322],[420,300],[372,274],[326,246],[282,216],[242,188],[206,164],[174,150],[150,140]],
            [[645,668],[650,640],[658,604],[672,564],[690,522],[712,482],[738,446],[760,420],[744,396],[720,380],[688,364],[650,346],[606,323],[560,300],[512,280],[462,260],[412,240],[362,220],[312,200],[262,180],[212,160],[160,140]],
            [[640,670],[630,640],[616,604],[600,566],[586,528],[580,494],[588,462],[608,436],[636,416],[668,398],[704,382],[750,364],[800,342],[850,318],[900,290],[948,260],[996,228],[1042,196],[1086,168],[1126,146],[1158,132]],
            [[150,118],[204,126],[260,135],[320,143],[380,150],[440,156],[500,160],[560,170],[620,185],[680,190],[740,190],[800,186],[860,180],[920,175],[980,170],[1036,162],[1090,150],[1134,140],[1165,132]],
            [[1178,128],[1126,126],[1070,125],[1014,126],[960,128],[904,133],[850,140],[796,145],[740,148],[682,150],[620,150],[560,148],[500,145],[440,141],[380,135],[326,130],[270,128],[218,125],[170,122],[136,120]],
            [[640,668],[650,636],[660,600],[668,560],[680,516],[694,476],[700,448],[680,430],[650,420],[614,408],[580,400],[540,386],[500,370],[460,350],[420,330],[380,306],[340,280],[300,250],[260,220],[220,190],[180,160],[148,140],[125,128]],
            [[645,670],[640,636],[633,598],[624,558],[614,518],[606,480],[610,446],[626,418],[650,400],[690,388],[736,378],[784,368],[832,356],[880,338],[926,316],[970,290],[1012,262],[1050,232],[1086,202],[1116,176],[1142,156],[1160,142]],
            [[115,128],[132,150],[156,175],[186,200],[222,224],[266,248],[314,270],[366,290],[420,308],[476,322],[534,334],[592,343],[650,350],[708,354],[764,352],[818,346],[870,334],[918,318],[962,298],[1002,276],[1040,252],[1076,226],[1108,200],[1136,176],[1158,156],[1170,146]],
            [[1182,130],[1166,158],[1144,186],[1118,212],[1088,236],[1054,258],[1016,278],[974,296],[930,312],[884,328],[838,344],[790,360],[742,374],[694,386],[644,394],[594,398],[544,394],[496,380],[450,360],[406,336],[364,310],[324,282],[286,252],[250,224],[216,198],[184,174],[154,154],[130,140]],
            [[640,665],[636,632],[632,596],[634,560],[642,524],[656,490],[676,460],[690,440],[660,428],[626,418],[592,404],[556,388],[518,368],[478,346],[438,322],[398,296],[358,268],[318,240],[280,212],[244,188],[210,166],[178,150],[150,135]],
            [[648,668],[652,636],[658,600],[660,562],[654,524],[638,492],[616,466],[606,440],[628,424],[664,412],[708,402],[752,392],[798,380],[842,364],[886,344],[928,320],[968,294],[1006,266],[1042,238],[1076,210],[1106,184],[1132,162],[1152,148],[1165,140]],
            [[130,105],[170,99],[214,93],[262,88],[312,84],[362,80],[414,77],[466,75],[518,74],[570,73],[622,72],[674,73],[724,74],[774,76],[824,78],[874,82],[922,88],[968,95],[1012,102],[1054,108],[1092,113],[1128,117],[1160,120]],
            [[1175,122],[1140,128],[1100,134],[1056,140],[1010,144],[962,147],[912,150],[860,152],[808,154],[756,155],[704,157],[652,158],[600,159],[548,160],[496,162],[446,164],[398,164],[350,162],[302,158],[256,151],[212,144],[172,137],[140,132]],
            [[640,670],[642,640],[644,600],[640,560],[630,520],[612,486],[588,458],[560,436],[530,420],[500,410],[470,400],[442,386],[418,366],[400,340],[390,310],[378,280],[356,252],[326,226],[290,204],[250,184],[208,164],[170,146],[138,132]],
            [[644,668],[650,636],[660,600],[676,566],[700,536],[728,512],[756,494],[780,478],[796,456],[804,428],[812,396],[826,362],[846,330],[872,300],[904,272],[940,246],[978,222],[1016,200],[1054,180],[1090,162],[1124,146],[1152,134]],
            [[640,665],[628,626],[610,586],[588,548],[566,512],[548,478],[540,444],[548,412],[570,386],[600,366],[636,350],[676,336],[718,320],[760,302],[804,282],[848,260],[894,236],[940,212],[986,190],[1032,170],[1076,152],[1116,138],[1150,128]],
            [[646,670],[654,638],[664,602],[676,566],[688,530],[696,494],[700,460],[698,426],[690,392],[676,360],[656,332],[630,308],[598,288],[560,270],[518,254],[472,238],[424,222],[376,204],[328,186],[282,168],[238,152],[196,138],[158,128]],
            [[120,125],[154,140],[194,158],[238,176],[284,192],[332,207],[382,220],[432,232],[484,242],[536,250],[588,256],[640,260],[692,262],[744,262],[796,260],[848,256],[898,250],[946,241],[992,230],[1034,216],[1074,200],[1110,182],[1142,162],[1166,142]],
            [[1172,126],[1140,140],[1104,156],[1064,172],[1020,187],[972,200],[922,211],[870,219],[818,224],[764,227],[710,228],[656,226],[602,222],[548,216],[494,208],[440,198],[388,187],[336,175],[288,163],[242,151],[200,140],[162,131],[132,126]]
        ];

        const GREEN = '#00ff00';
        const RED = '#ff0000';

        function trialDataset(points, color, label) {
            return {
                label: label,
                data: points.map(p => ({ x: p[0], y: p[1] })),
                showLine: true,
                borderColor: color,
                borderWidth: 1.3,
                pointStyle: 'circle',
                pointRadius: 3.9,
                pointBorderWidth: 1.4,
                pointBorderColor: color,
                pointBackgroundColor: 'rgba(0,0,0,0)',
                tension: 0
            };
        }

        // spread the green trials through the red ones, like the trial order of the plot
        const affirmativeTrials = affirmativeLeft.concat(affirmativeRight);
        const negatedTrials = negatedLeft.concat(negatedRight).concat(negatedCross);
        const trialSets = [];
        let g = 0;
        negatedTrials.forEach((tr, i) => {
            const due = Math.floor((i + 1) * affirmativeTrials.length / negatedTrials.length);
            while (g < due) {
                trialSets.push(trialDataset(affirmativeTrials[g], GREEN, seriesNames[0]));
                g++;
            }
            trialSets.push(trialDataset(tr, RED, seriesNames[1]));
        });
        // first in list -> bottom layer
        trialSets.forEach((ds, i) => { ds.order = trialSets.length - i; });

        const boxSets = targetBoxes.map(b => ({
            label: 'box',
            data: [{x: b[0], y: b[1]}, {x: b[2], y: b[1]}, {x: b[2], y: b[3]}, {x: b[0], y: b[3]}, {x: b[0], y: b[1]}],
            showLine: true,
            borderColor: '#000',
            borderWidth: 1.3,
            pointRadius: 0,
            tension: 0,
            order: 0
        }));

        const FONT = '"Liberation Sans", Arial, sans-serif';

        // plot frame and legend, R style
        const frameAndLegend = {
            id: 'frameAndLegend',
            afterDraw(chart) {
                const ctx = chart.ctx;
                const a = chart.chartArea;
                ctx.save();
                ctx.strokeStyle = '#000';
                ctx.lineWidth = 1.3;
                ctx.strokeRect(a.left, a.top, a.right - a.left, a.bottom - a.top);

                const entries = [[seriesNames[0], GREEN], [seriesNames[1], RED]];
                ctx.font = '14.5px ' + FONT;
                ctx.textBaseline = 'middle';
                ctx.fillStyle = '#000';
                entries.forEach((e, i) => {
                    const y = a.bottom - 88 + i * 19;
                    ctx.strokeStyle = e[1];
                    ctx.lineWidth = 1.3;
                    ctx.beginPath();
                    ctx.moveTo(a.left + 57, y);
                    ctx.lineTo(a.left + 85, y);
                    ctx.stroke();
                    ctx.fillText(e[0], a.left + 98, y);
                });
                ctx.restore();
            }
        };

        new Chart(document.getElementById('traj-chart'), {
            type: 'scatter',
            data: { datasets: boxSets.concat(trialSets) },
            options: {
                responsive: false,
                animation: false,
                events: [],
                layout: { padding: { top: 73, right: 38, left: 0, bottom: 0 } },
                plugins: {
                    legend: { display: false },
                    tooltip: { enabled: false }
                },
                scales: {
                    x: {
                        type: 'linear',
                        min: -51,
                        max: 1327,
                        afterBuildTicks: s => { s.ticks = xTicks.map(v => ({ value: v })); },
                        afterFit: s => { s.height = 92; },
                        grid: { display: true, drawOnChartArea: false, drawTicks: true, tickLength: 7, color: '#000', lineWidth: 1 },
                        border: { display: false },
                        ticks: { color: '#000', font: { family: FONT, size: 14.5 }, padding: 11, maxRotation: 0, callback: v => String(v) },
                        title: { display: true, text: 'X Position', color: '#000', font: { family: FONT, size: 14.5 }, padding: { top: 4, bottom: 21 } }
                    },
                    y: {
                        type: 'linear',
                        reverse: true,
                        min: -27,
                        max: 748,
                        afterBuildTicks: s => { s.ticks = yTicks.map(v => ({ value: v })); },
                        afterFit: s => { s.width = 73; },
                        grid: { display: true, drawOnChartArea: false, drawTicks: true, tickLength: 7, color: '#000', lineWidth: 1 },
                        border: { display: false },
                        ticks: { color: '#000', font: { family: FONT, size: 14.5 }, minRotation: 90, maxRotation: 90, crossAlign: 'center', padding: 9, callback: v => String(v) },
                        title: { display: true, text: 'Y Position', color: '#000', font: { family: FONT, size: 14.5 }, padding: { top: 3, bottom: 4 } }
                    }
                }
            },
            plugins: [frameAndLegend]
        });
    </script>
</body>
</html>
